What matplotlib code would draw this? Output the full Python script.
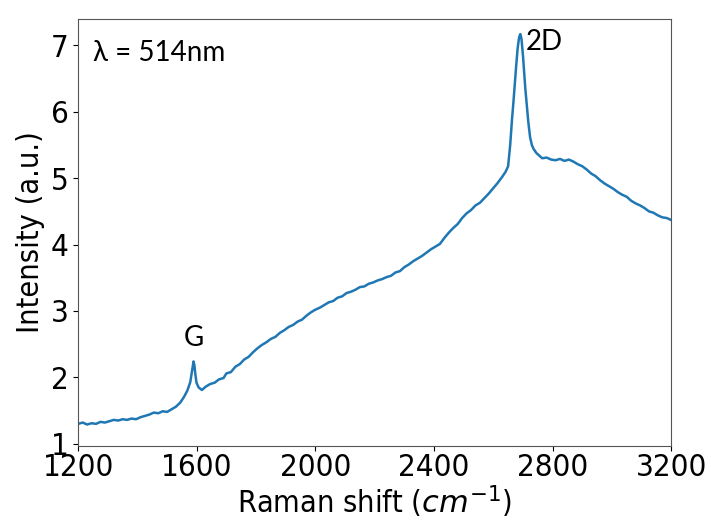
import numpy as np
import matplotlib
matplotlib.use("Agg")
import matplotlib.pyplot as plt

# Raman spectrum (cm^-1, a.u.)
shift = [1200, 1215, 1230, 1245, 1260, 1275, 1290, 1305, 1320, 1335, 1350, 1365,
         1380, 1395, 1410, 1425, 1440, 1455, 1470, 1485, 1500, 1515, 1530, 1544,
         1556, 1568, 1578, 1584, 1589, 1592, 1595, 1599, 1606, 1617, 1630, 1645,
         1660, 1675, 1690, 1700, 1715, 1730, 1745, 1760, 1775, 1790, 1805, 1820,
         1835, 1850, 1865, 1880, 1895, 1910, 1925, 1940, 1955, 1970, 1985, 2000,
         2015, 2030, 2045, 2060, 2075, 2090, 2105, 2120, 2135, 2150, 2165, 2180,
         2195, 2210, 2225, 2240, 2255, 2270, 2285, 2300, 2315, 2330, 2345, 2360,
         2375, 2390, 2405, 2420, 2435, 2450, 2465, 2480, 2495, 2510, 2525, 2540,
         2555, 2570, 2585, 2600, 2615, 2630, 2642, 2650, 2657, 2663, 2668, 2673,
         2677, 2682, 2687, 2691, 2695, 2700, 2704, 2708, 2713, 2718, 2724, 2730,
         2736, 2745, 2755, 2765, 2780, 2795, 2810, 2825, 2840, 2855, 2870, 2885,
         2900, 2915, 2930, 2945, 2960, 2975, 2990, 3005, 3020, 3035, 3050, 3065,
         3080, 3095, 3110, 3125, 3140, 3155, 3170, 3185, 3200]
intensity = [1.30, 1.32, 1.29, 1.31, 1.30, 1.33, 1.32, 1.34, 1.36, 1.35, 1.37, 1.36,
             1.38, 1.37, 1.40, 1.42, 1.44, 1.47, 1.46, 1.49, 1.48, 1.52, 1.56, 1.62,
             1.70, 1.80, 1.93, 2.10, 2.24, 2.18, 2.05, 1.92, 1.85, 1.81, 1.86, 1.90,
             1.92, 1.97, 1.99, 2.06, 2.08, 2.16, 2.20, 2.27, 2.31, 2.38, 2.44, 2.49,
             2.53, 2.58, 2.61, 2.67, 2.71, 2.76, 2.79, 2.84, 2.87, 2.93, 2.98, 3.02,
             3.05, 3.09, 3.13, 3.15, 3.20, 3.22, 3.27, 3.29, 3.32, 3.36, 3.37, 3.41,
             3.43, 3.46, 3.48, 3.51, 3.53, 3.58, 3.60, 3.66, 3.70, 3.75, 3.79, 3.83,
             3.88, 3.93, 3.97, 4.01, 4.10, 4.18, 4.25, 4.31, 4.40, 4.47, 4.52, 4.59,
             4.63, 4.70, 4.77, 4.85, 4.93, 5.02, 5.10, 5.18, 5.50, 5.88, 6.15, 6.45,
             6.68, 6.95, 7.12, 7.17, 7.10, 6.85, 6.60, 6.35, 6.10, 5.85, 5.62, 5.50,
             5.44, 5.38, 5.34, 5.30, 5.31, 5.28, 5.27, 5.29, 5.26, 5.28, 5.25, 5.21,
             5.18, 5.13, 5.07, 5.03, 4.97, 4.92, 4.88, 4.84, 4.79, 4.75, 4.72, 4.66,
             4.62, 4.59, 4.55, 4.50, 4.48, 4.44, 4.41, 4.40, 4.37]

peak_labels = ["G", "2D"]
peak_pos = [(1589, 2.40), (2708, 7.05)]

fig = plt.figure(figsize=(7.11, 5.22), dpi=100)
ax = fig.add_axes([0.110, 0.146, 0.834, 0.818])

ax.plot(shift, intensity, color="#1f77b4", lw=1.8)
ax.set_xlim(1200, 3200)
ax.set_ylim(0.97, 7.4)
ax.set_xticks([1200, 1600, 2000, 2400, 2800, 3200])
ax.set_yticks([1, 2, 3, 4, 5, 6, 7])
ax.tick_params(labelsize=22.5)
ax.tick_params(axis="x", pad=2)
for lbl in ax.get_xticklabels() + ax.get_yticklabels():
    lbl.set_fontstretch("condensed")
for s in ax.spines.values():
    s.set_color("#555555")

ax.set_xlabel("Raman shift ($cm^{-1}$)", fontsize=22, fontstretch="condensed",
              labelpad=1)
ax.set_ylabel("Intensity (a.u.)", fontsize=22, fontstretch="condensed")

ax.text(0.025, 0.92, "λ = 514nm", transform=ax.transAxes, fontsize=20,
        family="Lato", va="center", ha="left")
ax.text(peak_pos[0][0], peak_pos[0][1], peak_labels[0], fontsize=20,
        family="Lato", ha="center", va="bottom")
ax.text(peak_pos[1][0], peak_pos[1][1], peak_labels[1], fontsize=20,
        family="Lato", ha="left", va="center")

fig.savefig("out.png", dpi=100)
